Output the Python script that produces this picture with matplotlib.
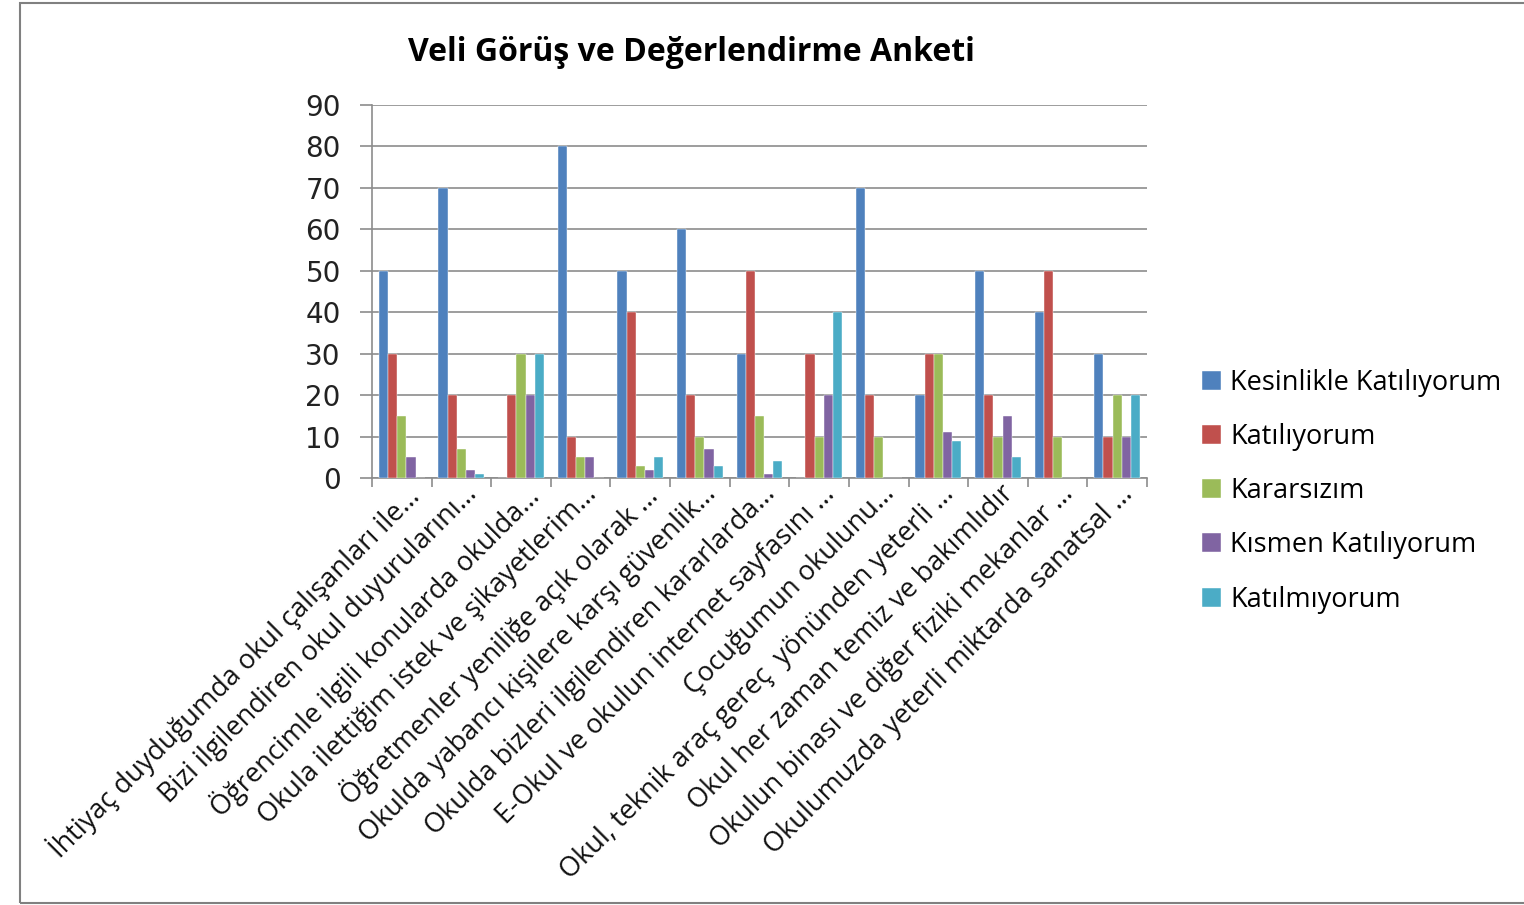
import numpy as np
import matplotlib.pyplot as plt
from matplotlib.patches import Rectangle
import matplotlib.transforms as mtrans

# Anket maddeleri (kısaltılmış)
kategoriler = [
    'İhtiyaç duyduğumda okul çalışanları ile…',
    'Bizi ilgilendiren okul duyurularını…',
    'Öğrencimle ilgili konularda okulda…',
    'Okula ilettiğim istek ve şikayetlerim…',
    'Öğretmenler yeniliğe açık olarak …',
    'Okulda yabancı kişilere karşı güvenlik…',
    'Okulda bizleri ilgilendiren kararlarda…',
    'E-Okul ve okulun internet sayfasını …',
    'Çocuğumun okulunu…',
    'Okul, teknik araç gereç  yönünden yeterli …',
    'Okul her zaman temiz ve bakımlıdır',
    'Okulun binası ve diğer fiziki mekanlar …',
    'Okulumuzda yeterli miktarda sanatsal …',
]

seriler = ['Kesinlikle Katılıyorum', 'Katılıyorum', 'Kararsızım',
           'Kısmen Katılıyorum', 'Katılmıyorum']

kesinlikle = [50, 70, 0, 80, 50, 60, 30, 0, 70, 20, 50, 40, 30]
katiliyorum = [30, 20, 20, 10, 40, 20, 50, 30, 20, 30, 20, 50, 10]
kararsizim = [15, 7, 30, 5, 3, 10, 15, 10, 10, 30, 10, 10, 20]
kismen = [5, 2, 20, 5, 2, 7, 1, 20, 0, 11, 15, 0, 10]
katilmiyorum = [0, 1, 30, 0, 5, 3, 4, 40, 0, 9, 5, 0, 20]

renkler = ['#4F81BD', '#C0504D', '#9BBB59', '#8064A2', '#4BACC6']

degerler = [kesinlikle, katiliyorum, kararsizim, kismen, katilmiyorum]

fig = plt.figure(figsize=(15.24, 9.05), dpi=100)
ax = fig.add_axes([0.2441, 0.4718, 0.5085, 0.4122])

x = np.arange(len(kategoriler))
w = 1 / 6.5
for i, (ad, vals, c) in enumerate(zip(seriler, degerler, renkler)):
    ax.bar(x + (i - 2) * w, vals, width=w, color=c, label=ad, zorder=3,
           edgecolor='white', linewidth=0.3)

ax.set_xlim(-0.5, len(kategoriler) - 0.5)
ax.set_ylim(0, 90)
ax.set_yticks(range(0, 91, 10))
ax.yaxis.grid(True, color='#8C8C8C', linewidth=1.2, zorder=0)

for s in ['top', 'right']:
    ax.spines[s].set_visible(False)
for s in ['left', 'bottom']:
    ax.spines[s].set_color('#8C8C8C')
    ax.spines[s].set_linewidth(1.2)

# kategori sınırlarında tik çizgileri
ax.set_xticks(np.arange(-0.5, len(kategoriler), 1))
ax.set_xticklabels([])
ax.tick_params(axis='x', length=6.5, color='#8C8C8C', width=1.2)
ax.tick_params(axis='y', length=8.5, color='#8C8C8C', width=1.2,
               labelsize=20, labelcolor='#222222', pad=14)

# eğik kategori etiketleri
kaydir = mtrans.ScaledTranslation(2 / 100, -2 / 100, fig.dpi_scale_trans)
for xi, etiket in zip(x, kategoriler):
    ax.text(xi, 0, etiket, transform=ax.get_xaxis_transform() + kaydir,
            rotation=45, ha='right', va='top', rotation_mode='anchor',
            fontsize=19.5, family='Open Sans', color='#111111')

fig.text(0.454, 0.942, 'Veli Görüş ve Değerlendirme Anketi', ha='center',
         va='center', fontsize=23, fontweight='bold', family='Open Sans')

ax.legend(loc='center left', bbox_to_anchor=(1.057, -0.035), frameon=False,
          prop={'family': 'Open Sans', 'size': 19.5}, handlelength=0.7,
          handleheight=0.7, labelspacing=0.97, handletextpad=0.35,
          borderaxespad=0)

fig.patches.append(Rectangle((0.013, 0.002), 0.99, 0.995,
                             transform=fig.transFigure, fill=False,
                             edgecolor='#808080', linewidth=1.5))

fig.savefig('out.png', dpi=100)
